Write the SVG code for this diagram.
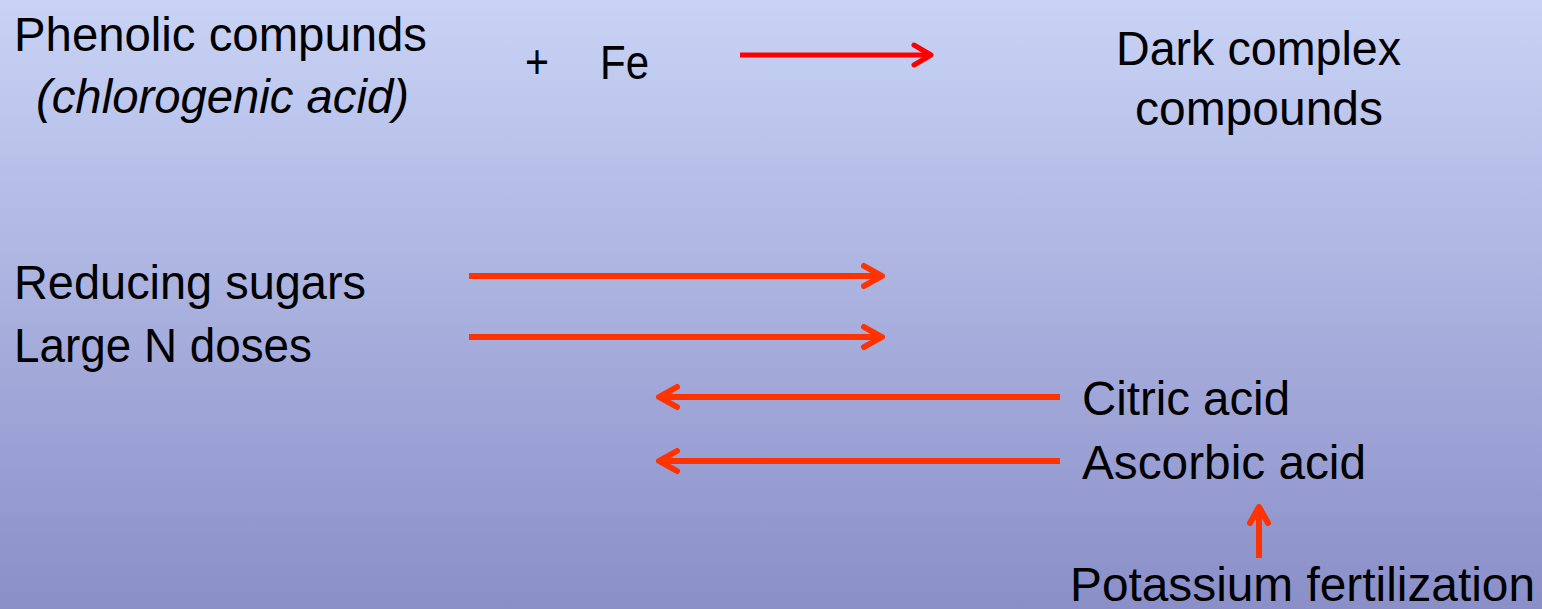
<svg xmlns="http://www.w3.org/2000/svg" width="1542" height="609" viewBox="0 0 1542 609">
<defs>
<linearGradient id="bg" x1="0" y1="0" x2="0" y2="1">
<stop offset="0" stop-color="#c9d3f5"/>
<stop offset="1" stop-color="#8a8fc8"/>
</linearGradient>
</defs>
<style>
text{font-family:"Liberation Sans Narrow","Liberation Sans",Arial,sans-serif;font-size:48px;fill:#000}
.it{font-style:italic}
.red line,.red polyline{stroke:#ff0000;stroke-width:5;fill:none;stroke-linejoin:round}
.org line,.org polyline{stroke:#ff3300;stroke-width:6;fill:none;stroke-linejoin:round}
polyline{stroke-linecap:round}
line{stroke-linecap:butt}
</style>
<rect width="1542" height="609" fill="url(#bg)"/>
<g id="phenolic">
<text x="14" y="51" textLength="413" lengthAdjust="spacingAndGlyphs">Phenolic compunds</text>
<text class="it" x="36" y="113" textLength="373" lengthAdjust="spacingAndGlyphs">(chlorogenic acid)</text>
</g>
<g id="plus"><text x="525" y="78" textLength="24" lengthAdjust="spacingAndGlyphs">+</text></g>
<g id="fe"><text x="600" y="79" textLength="49" lengthAdjust="spacingAndGlyphs">Fe</text></g>
<g id="dark">
<text x="1116" y="65" textLength="285" lengthAdjust="spacingAndGlyphs">Dark complex</text>
<text x="1135" y="125" textLength="248" lengthAdjust="spacingAndGlyphs">compounds</text>
</g>
<g id="reducing"><text x="14" y="299" textLength="352" lengthAdjust="spacingAndGlyphs">Reducing sugars</text></g>
<g id="largeN"><text x="14" y="362" textLength="298" lengthAdjust="spacingAndGlyphs">Large N doses</text></g>
<g id="citric"><text x="1082" y="415" textLength="208" lengthAdjust="spacingAndGlyphs">Citric acid</text></g>
<g id="ascorbic"><text x="1082" y="479" textLength="284" lengthAdjust="spacingAndGlyphs">Ascorbic acid</text></g>
<g id="potassium"><text x="1070" y="601" textLength="465" lengthAdjust="spacingAndGlyphs">Potassium fertilization</text></g>
<g id="connectors">
<g class="red">
<line x1="740" y1="55" x2="929" y2="55"/>
<polyline points="914,45 931,55 914,65"/>
</g>
<g class="org">
<line x1="469" y1="276" x2="880" y2="276"/>
<polyline points="864,266 882,276 864,286"/>
<line x1="469" y1="337" x2="880" y2="337"/>
<polyline points="864,327 882,337 864,347"/>
<line x1="1060" y1="397" x2="661" y2="397"/>
<polyline points="677,387 659,397 677,407"/>
<line x1="1060" y1="461" x2="661" y2="461"/>
<polyline points="677,451 659,461 677,471"/>
<line x1="1259" y1="558" x2="1259" y2="509"/>
<polyline points="1250,523 1259,507 1268,523"/>
</g>
</g>
</svg>
